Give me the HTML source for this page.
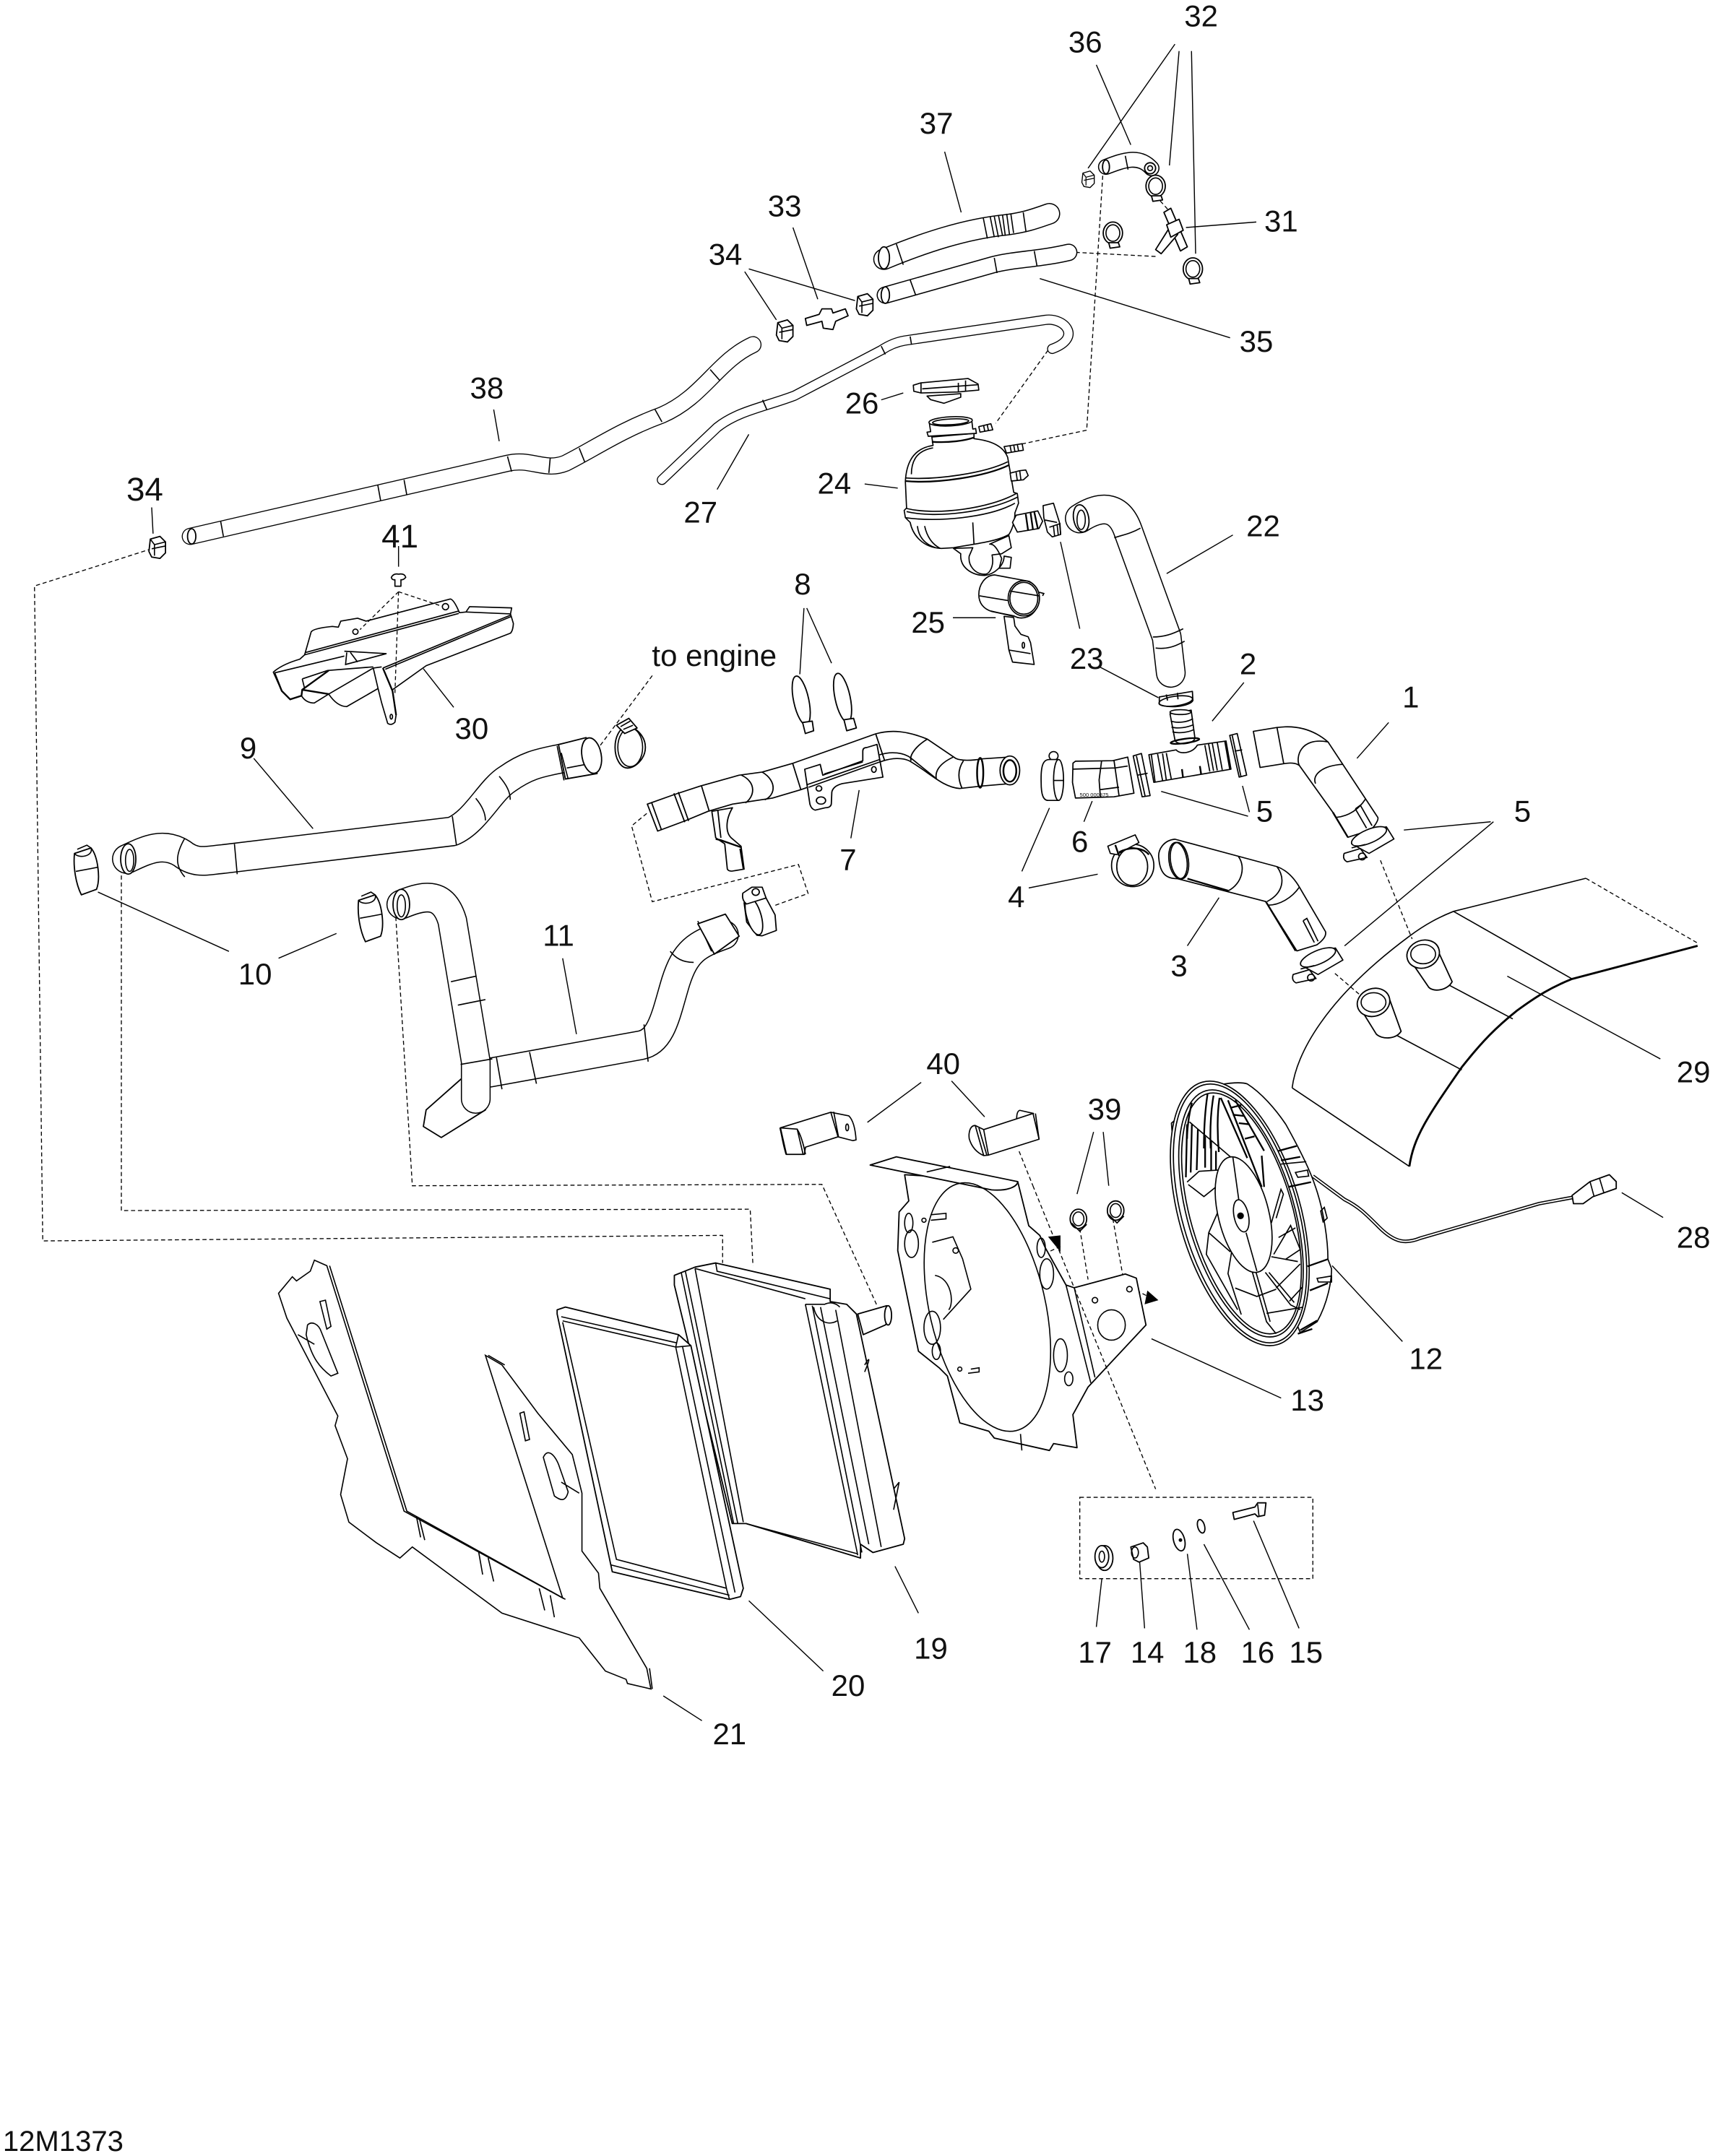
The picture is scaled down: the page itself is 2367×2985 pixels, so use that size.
<!DOCTYPE html>
<html><head><meta charset="utf-8"><style>
html,body{margin:0;padding:0;background:#fff}
svg{display:block}
text{font-family:"Liberation Sans",sans-serif;font-size:22px;fill:#111;text-anchor:middle}
.l{fill:none;stroke:#000;stroke-width:.75}
.p{fill:#fff;stroke:#000;stroke-width:.95;stroke-linejoin:round}
.n{fill:none;stroke:#000;stroke-width:.85}
.d{fill:none;stroke:#000;stroke-width:.7;stroke-dasharray:3 2}
.t{fill:none;stroke-linecap:round;stroke-linejoin:round}
.z .p,.z .n,.p.w,.n.w{stroke-width:5}
.z .b{fill:none;stroke:#000;stroke-width:7}
</style></head><body>
<svg xmlns="http://www.w3.org/2000/svg" width="2367" height="2985" viewBox="0 0 1240 1563.7">
<defs>
<path id="t37" d="M641,188C670,176 700,166 730,163C745,161 752,158 761,155"/>
<path id="t35" d="M642,214L720,192C735,188 754,188 775,183"/>
<path id="t36" d="M802,121C815,116 826,112 835,122"/>
<path id="t38" d="M138,389L368,336C385,332 395,342 410,336C430,326 450,312 480,301C510,288 520,262 546,250"/>
<path id="t27" d="M480,348L520,310C535,298 555,295 576,287L639,254C645,250 650,248 656,247L758,232C772,230 785,245 763,253"/>
<path id="t9" d="M92,623C105,617 118,610 132,619C142,627 150,624 162,623L328,603C345,596 355,573 368,565C385,553 395,553 412,549"/>
<path id="t11a" d="M291,656C310,648 322,648 328,668L345,770L345,797"/>
<path id="t11b" d="M355,778L465,758C480,755 483,735 490,712C497,690 505,685 525,678"/>
<path id="t22" d="M783,376C800,365 812,368 818,385L846,462L849,488"/>
<g id="cl"><ellipse class="p" cx="-4" cy="0" rx="9" ry="15"/><path class="p" d="M-4,-15C2,-15 9,-8 9,0C9,8 2,15 -4,15"/><ellipse class="n" cx="-2" cy="0" rx="9" ry="14"/><path class="p" d="M-12,-16L-3,-21L3,-14L-6,-10Z"/><path class="n" d="M-9,-15L-2,-19M-7,-13L0,-16"/></g>
<g id="bd"><path class="p" d="M-8,-12L4,-16C9,-10 11,6 8,14L-3,18C-7,10 -9,-2 -8,-12Z"/><path class="n" d="M-8,-12C-5,-8 6,-10 4,-16M-7,1L9,-2M-6,-15L1,-18L4,-16"/></g>
<g id="hx"><path class="p" d="M-5,-6L2,-8L6,-4L6,4L2,8L-4,7L-6,3Z"/><path class="n" d="M-5,-6L-2,-2L-2,6M-2,-2L6,-4M-4,1L6,-1"/></g>
<g id="cr"><ellipse class="p" cx="0" cy="0" rx="7" ry="8"/><ellipse class="n" cx="0" cy="0" rx="5" ry="6"/><path class="p" d="M-3,7L4,7L5,10L-2,11Z"/></g>
<g id="c5"><path class="p w" d="M1310,655L1380,695L1480,635L1450,585L1380,595Z"/><ellipse class="p w" cx="1380" cy="624" rx="76" ry="28" transform="rotate(-24 1380 624)"/><path class="p w" d="M1280,695L1345,675L1372,712L1292,730Q1272,720 1280,695Z"/><circle class="n w" cx="1352" cy="708" r="14"/><path class="n w" d="M1310,672L1365,658"/></g>
</defs>

<!-- dashed connectors -->
<path class="d" d="M110,398L25,425L31,900L524,896L524,916"/>
<path class="d" d="M88,630L88,878L544,877L546,918"/>
<path class="d" d="M287,665L299,860L596,859L636,947"/>
<path class="d" d="M780,183L838,186M741,322L788,312L800,122M760,254L722,307M838,142L847,152"/>
<path class="d" d="M473,490L435,541M469,590L458,599L473,654L579,627L586,648L561,657"/>
<path class="d" d="M1150,637L1231,684M1001,624L1024,681M968,706L989,724"/>
<path class="d" d="M739,835L749,860M783,891L789,928M807,884L814,924"/>
<path class="d" d="M769,904L730,922M798,943L812,947M824,936L834,941"/>
<rect class="d" x="783" y="1086" width="169" height="59"/>
<path d="M724,925L733,915L736,924ZM812,942L819,949L809,952ZM832,936L840,943L830,946ZM769,908L760,897L769,896Z" fill="#000"/>

<!-- leaders -->
<path class="l" d="M852,32L789,122M855,37L848,120M864,37L867,184M795,47L820,105M685,110L697,154M575,165L593,217M540,197L563,232M543,195L620,218M911,161L860,165M754,202L892,245M358,297L362,320M639,290L655,285M627,351L651,354M520,355L543,315M894,388L846,416M769,393L783,456M798,484L840,506M691,448L722,448M583,441L580,489M585,441L603,481M902,495L879,523M1007,524L984,550M329,513L307,485M227,601L184,550M905,592L842,574M906,589L901,570M1081,596L1018,602M1083,596L975,686M786,596L792,581M617,608L623,573M741,632L761,586M746,644L796,634M861,686L884,651M166,690L71,647M202,695L244,677M408,695L418,750M668,785L629,814M690,784L714,810M793,821L781,866M800,821L804,860M1093,708L1204,768M1176,865L1206,883M966,918L1017,973M835,971L929,1014M649,1136L666,1170M543,1161L597,1212M481,1230L509,1248M799,1145L795,1180M826,1127L830,1181M861,1127L868,1182M873,1120L906,1182M909,1103L942,1181M110,368L111,387M289,396L289,411"/>

<!-- hoses top -->
<use href="#t37" class="t" stroke="#000" stroke-width="15.6"/><use href="#t37" class="t" stroke="#fff" stroke-width="14"/>
<ellipse class="p" cx="641" cy="187" rx="4" ry="8"/>
<path class="n" d="M650,177L655,192M713,158L716,173M718,157L721,172M721,157L724,172M724,156L727,171M727,156L729,171M730,155L732,170M733,155L735,169M742,154L744,168"/>
<use href="#t35" class="t" stroke="#000" stroke-width="12.6"/><use href="#t35" class="t" stroke="#fff" stroke-width="11"/>
<ellipse class="p" cx="642" cy="214" rx="3" ry="6"/><path class="n" d="M660,203L664,214M721,187L723,198M750,182L752,193"/>
<use href="#t36" class="t" stroke="#000" stroke-width="11.6"/><use href="#t36" class="t" stroke="#fff" stroke-width="10"/>
<ellipse class="p" cx="802" cy="121" rx="2.5" ry="5"/><circle class="p" cx="834" cy="122" r="4"/><circle class="n" cx="834" cy="122" r="1.8"/><path class="n" d="M816,113L818,123"/>
<use href="#cr" transform="translate(838,135)"/><use href="#cr" transform="translate(807,169)"/><use href="#cr" transform="translate(865,195)"/>
<g transform="translate(789,130) scale(.75)"><use href="#hx"/></g>
<!-- T 31 -->
<path class="p" d="M844,154L849,151L861,179L856,182Z"/><path class="p" d="M850,162L854,170L842,184L838,181Z"/><path class="p" d="M846,163L855,159L858,167L849,172Z"/>
<!-- 38 -->
<use href="#t38" class="t" stroke="#000" stroke-width="12.4"/><use href="#t38" class="t" stroke="#fff" stroke-width="11"/>
<ellipse class="p" cx="139" cy="389" rx="3" ry="5.5"/><path class="n" d="M160,378L162,389M274,352L276,363M293,348L295,359M368,331L371,342M399,332L398,343M420,325L424,335M475,297L480,306M515,268L522,276"/>
<use href="#t27" class="t" stroke="#000" stroke-width="7.4"/><use href="#t27" class="t" stroke="#fff" stroke-width="6"/>
<path class="n" d="M639,251L642,257M660,244L661,250M553,290L556,297"/>
<!-- 33 / 34 -->
<use href="#hx" transform="translate(569,240)"/><use href="#hx" transform="translate(627,221)"/><use href="#hx" transform="translate(114,397)"/>
<path class="p" d="M584,231L594,228L596,224L603,224L604,227L613,224L615,229L606,233L604,239L597,238L596,233L585,236Z"/>

<!-- tank crop: cap, 24, 25, 23 upper -->
<g class="z" transform="translate(644.3,272.4) scale(.1746)">
<path class="p" d="M160,85L300,75L300,90L230,115L175,100Z"/>
<path class="p" d="M103,40L135,30L330,12L372,35L375,60L320,65L290,68L135,72L105,65Z"/><path class="n" d="M135,30L135,72M290,30L290,68M320,20L320,65M140,55L370,38"/>
<path class="p" d="M185,290C120,300 75,340 70,440L75,550L65,560L70,590L90,610C100,660 140,715 220,718L270,715C350,700 450,690 500,660C520,630 525,590 525,570L540,530L535,490L520,485L495,340C480,300 440,275 375,265L355,262L355,240L180,255Z"/>
<path class="b" d="M70,438C200,450 400,420 500,372"/><path class="n" d="M70,425C200,435 400,405 495,358M75,552C200,582 420,552 530,490M75,565C200,595 420,565 535,505M70,590C200,610 420,590 525,530M95,410C95,340 130,310 185,300M120,625C125,670 150,700 195,715M150,625C160,670 180,700 215,718M350,610L355,700"/>
<path class="b" d="M180,275C250,280 320,270 355,257"/>
<path class="p" d="M170,200L345,180L350,222L362,220L365,240L165,252L160,235L175,233Z"/><ellipse class="p" cx="258" cy="190" rx="90" ry="19" transform="rotate(-3 258 190)"/><ellipse class="n" cx="258" cy="192" rx="75" ry="12" transform="rotate(-3 258 192)"/>
<path class="p" d="M375,212L425,200L433,225L380,235Z"/><path class="n" d="M395,208L400,232M410,204L415,228"/>
<path class="p" d="M480,295L555,283L560,310L490,322Z"/><path class="n" d="M505,292L510,318M520,288L525,316M535,286L540,312"/>
<path class="p" d="M505,405L545,395L570,392L580,415L560,433L510,438Z"/><path class="n" d="M530,402L535,436M545,396L550,434"/>
<path class="p" d="M530,580L620,562L640,605L625,635L535,650L515,610Z"/><path class="b" d="M570,575L580,645M590,570L600,640M605,565L620,635"/>
<path class="p" d="M270,718L300,740C295,800 350,830 400,830C440,825 480,790 480,750L510,755L505,800L460,800L470,760C445,700 430,700 420,700L500,665L510,715L470,740L430,745C440,790 420,825 400,825C360,825 330,790 335,750L350,715Z" style="fill:none"/>
<path class="p" d="M440,828L585,855A65,73 0 0 1 520,998L430,980C395,970 375,945 375,910C375,870 400,830 440,828Z"/><ellipse class="p" cx="562" cy="925" rx="65" ry="73"/><ellipse class="n" cx="562" cy="925" rx="58" ry="66"/>
<path class="n" d="M378,915L500,935M505,895L625,915M625,900L645,905L640,915"/>
<path class="p" d="M480,1000L500,1140L515,1190L605,1200L590,1110L580,1085L550,1075L525,1040L520,1005Z"/><path class="n" d="M500,1140L590,1155M425,978L520,1000"/><ellipse class="n" cx="560" cy="1120" rx="5" ry="12"/>
<path class="p" d="M642,540L685,530L710,610L715,660L680,670L660,650L645,590Z"/><path class="n" d="M650,600L700,610M668,630L712,615L715,660M685,625L690,668M700,618L705,662"/>
</g>
<!-- 22 -->
<use href="#t22" class="t" stroke="#000" stroke-width="21.6"/><use href="#t22" class="t" stroke="#fff" stroke-width="20"/>
<ellipse class="p" cx="784" cy="376" rx="5.5" ry="10" transform="rotate(-10 784 376)"/><ellipse class="n" cx="784" cy="377" rx="3" ry="7"/>
<path class="n" d="M808,390C814,388 820,387 827,383M836,462C844,462 850,460 858,456M838,470C846,471 852,469 859,465"/>

<!-- centre crop: 1-6 -->
<g class="z" transform="translate(743.8,497.6) scale(.1804,.1746)">
<path class="p" d="M537,45L670,22L672,60C660,85 570,95 537,75Z"/><ellipse class="n" cx="603" cy="62" rx="68" ry="20" transform="rotate(-8 603 62)"/><path class="n" d="M565,35L570,60M610,28L612,55"/>
<path class="p" d="M580,115L600,225C610,250 680,240 680,215L665,100Z"/><ellipse class="p" cx="622" cy="108" rx="42" ry="10"/><path class="n" d="M583,145C610,155 650,150 672,135M586,170C610,178 650,172 675,160M590,190C615,198 655,192 677,180"/>
<path class="p" d="M495,285L605,265C620,285 670,280 690,245L805,228L825,345L600,385L515,400Z"/>
<path class="n" d="M505,285L520,398M530,282L550,392M550,280L565,390M565,278L585,385M720,245L740,355M735,240L755,352M750,238L770,350M770,235L790,348M800,228L820,345"/>
<path class="b" d="M628,345L632,378M700,332L705,365"/><ellipse class="b" cx="640" cy="228" rx="58" ry="9" transform="rotate(-8 640 228)"/>
<path class="p" d="M432,290L465,280L500,455L468,460Z"/><path class="n" d="M445,290L480,458M450,370L490,362"/>
<path class="p" d="M820,205L850,197L888,370L858,378Z"/><path class="n" d="M830,205L865,375M840,270L870,265"/>
<path class="p" d="M190,320L200,312L350,310L410,295L435,445L355,460L200,465L188,400Z"/><path class="n" d="M190,345L360,340L410,332M305,310L295,390L300,460M355,310L375,455M300,430L375,420"/>
<text x="275" y="460" style="font-size:22px">500 000875</text>
<circle class="n" cx="112" cy="290" r="18"/><path class="p" d="M95,305C70,305 60,330 62,400C62,450 70,475 90,475L130,475A20,85 0 0 0 130,305Z"/><ellipse class="p" cx="132" cy="390" rx="20" ry="85"/><path class="n" d="M112,392L150,392"/>
<path class="p" d="M915,188L1010,172C1060,165 1140,165 1215,232L1415,545C1420,555 1400,590 1380,600L1295,628L1235,525L1100,330C1085,318 1060,318 1040,322L942,338Z"/>
<path class="n" d="M1010,172L1037,322M1215,232C1100,210 1085,300 1100,330M1275,325C1190,330 1150,370 1165,405M1250,545C1300,540 1340,510 1365,470M1325,510L1345,495L1392,580M1325,510L1370,590"/><path class="b" d="M1235,525L1295,628"/>
<use href="#c5"/>
<path class="p" d="M535,715C530,680 555,640 600,636L650,650L1010,750C1050,765 1080,800 1100,835L1205,1020C1210,1040 1190,1060 1170,1075L1090,1100L965,895L610,800C570,800 540,785 535,715Z"/>
<ellipse class="n" cx="612" cy="725" rx="36" ry="76" transform="rotate(-8 612 725)"/><ellipse class="n" cx="618" cy="725" rx="36" ry="76" transform="rotate(-8 618 725)"/><path class="n" d="M855,708C885,750 870,820 815,850M1010,750C1045,800 1035,860 970,895M975,910C1020,910 1070,880 1100,835M1115,975L1130,965L1175,1060M1115,975L1160,1065"/><path class="b" d="M965,895L1085,1100M650,800L815,850"/>
<g transform="translate(-205,503)"><use href="#c5"/></g>
<ellipse class="p" cx="430" cy="745" rx="85" ry="88"/><ellipse class="n" cx="428" cy="750" rx="62" ry="78"/><path class="p" d="M330,665L440,618L455,650L365,700L340,695Z"/><path class="b" d="M360,660L375,705M375,690C420,665 470,670 495,700"/>
</g>

<!-- 29 -->
<path class="n" d="M937,789C940,765 960,725 1022,679C1034,670 1044,665 1054,661L1150,637"/>
<path class="n" d="M937,789L1022,846"/>
<path d="M1022,846C1025,825 1035,810 1060,774C1075,755 1085,745 1100,733C1115,722 1125,716 1140,710L1231,686" fill="none" stroke="#000" stroke-width="1.5"/>
<path class="n" d="M1054,661L1140,710M1048,713L1097,739M1013,751L1060,776"/>
<path class="p" d="M1021,694L1042,688L1053,712C1050,718 1040,720 1036,716Z"/><ellipse class="p" cx="1032" cy="692" rx="12" ry="10" transform="rotate(-20 1032 692)"/><ellipse class="n" cx="1032" cy="692" rx="9" ry="7"/>
<path class="p" d="M985,729L1007,723L1016,748C1012,754 1002,754 998,750Z"/><ellipse class="p" cx="996" cy="727" rx="12" ry="10" transform="rotate(-20 996 727)"/><ellipse class="n" cx="996" cy="727" rx="9" ry="7"/>

<!-- 8 -->
<ellipse class="p" cx="581" cy="508" rx="5.5" ry="18" transform="rotate(-12 581 508)"/><path class="p" d="M582,524L589,523L590,530L584,532Z"/>
<ellipse class="p" cx="611" cy="506" rx="5.5" ry="18" transform="rotate(-12 611 506)"/><path class="p" d="M612,522L619,521L621,528L614,530Z"/>
<!-- 7 crop -->
<g class="z" transform="translate(461,518.6) scale(.1871,.1746)">
<path class="p" d="M295,400L310,510L345,535L355,640Q360,650 375,648L420,640L408,545L370,510C350,490 345,440 375,385Z"/><path class="n" d="M318,395L330,510"/><path class="b" d="M310,515L330,520L410,550M405,555L418,640"/>
<path class="p" d="M45,370L150,330L250,295L400,250L490,237L610,200L930,78C990,60 1050,65 1130,100L1240,180C1260,190 1300,190 1340,182L1440,175L1450,285L1340,295L1255,305C1190,300 1140,240 1060,190C1030,175 990,180 960,190L640,310L530,345L375,370L280,400L190,440L85,482Z"/>
<path class="n" d="M255,295L285,400M410,250C470,280 460,340 425,365M490,237C550,275 540,335 500,352M608,200L640,310M930,78L965,190M1130,100C1070,140 1060,180 1068,190M1230,175C1170,205 1160,240 1165,265M1270,190C1245,230 1250,270 1265,305M945,165C990,150 1040,155 1068,180L1160,260M62,365L100,478M148,325L190,445M165,320L205,440"/>
<path class="p" d="M655,225L715,205L725,250L880,190L880,150Q880,135 895,135L935,122L958,258L800,285Q765,295 760,320L758,370Q755,385 735,385L695,395Q680,390 675,370Z"/>
<path class="n" d="M662,290L945,185M670,300L945,195M730,245L880,195"/><ellipse class="n" cx="710" cy="305" rx="11" ry="11"/><ellipse class="n" cx="718" cy="355" rx="18" ry="15"/><ellipse class="n" cx="923" cy="226" rx="9" ry="12"/>
<ellipse class="b" cx="1335" cy="240" rx="12" ry="62"/>
<ellipse class="p" cx="1450" cy="230" rx="38" ry="60"/><ellipse class="b" cx="1450" cy="232" rx="25" ry="45"/>
</g>
<!-- 9 -->
<use href="#t9" class="t" stroke="#000" stroke-width="21.6"/><use href="#t9" class="t" stroke="#fff" stroke-width="20"/>
<ellipse class="p" cx="93" cy="623" rx="5.5" ry="11"/><ellipse class="n" cx="94" cy="624" rx="3" ry="8"/>
<path class="n" d="M134,608C127,620 127,628 134,636M170,612L172,634M328,592L331,613M345,579C350,585 352,590 352,595M362,563C368,570 370,575 370,580"/>
<path class="p" d="M405,540L425,535L433,561L410,565Z"/><path class="n" d="M407,546L412,565M404,541L409,566M411,557L432,553"/><ellipse class="p" cx="429" cy="548" rx="7" ry="13" transform="rotate(-10 429 548)"/>
<use href="#cl" transform="translate(459,542)"/>
<use href="#bd" transform="translate(62,631)"/><use href="#bd" transform="translate(268,665)"/>
<!-- 11 -->
<path class="p" d="M335,782L309,805L307,817L320,825L352,805L357,775Z"/>
<use href="#t11b" class="t" stroke="#000" stroke-width="21.6"/><use href="#t11b" class="t" stroke="#fff" stroke-width="20"/>
<use href="#t11a" class="t" stroke="#000" stroke-width="21.6"/><use href="#t11a" class="t" stroke="#fff" stroke-width="20"/>
<ellipse class="p" cx="291" cy="656" rx="6" ry="11"/><ellipse class="n" cx="291" cy="657" rx="3" ry="8"/>
<path class="n" d="M327,712L345,708M332,729L352,725M334,772L357,768M360,767L364,790M384,763L389,786M467,743L470,770M486,690C490,695 495,698 503,698M506,668L516,690"/>
<path class="p" d="M506,670L526,663L536,679L518,692Z"/>
<g class="z" transform="translate(461,518.6) scale(.1871,.1746)">
<path class="p" d="M420,780L430,860L470,915L490,917L545,895L540,830L510,770L500,750Z"/><ellipse class="p" cx="458" cy="835" rx="28" ry="80" transform="rotate(-15 458 835)"/>
<path class="p" d="M415,740L450,715L490,715L505,760L430,785Q410,770 415,740Z"/><circle class="n" cx="465" cy="735" r="14"/>
</g>

<!-- 30 / 41 crop -->
<g class="z" transform="translate(188.6,398.1) scale(.1746)">
<path class="p" d="M545,118Q555,100 575,105Q600,100 605,118Q595,130 585,128L585,155L560,155L560,128Q548,130 545,118Z"/>
<path class="p" d="M55,512Q90,480 165,458L185,440L212,345Q220,330 300,322L325,325L335,300L405,288L440,300L790,208Q805,210 828,265L855,262L870,240L1045,245L1040,270L1052,310Q1050,340 1040,350L690,485L550,585L565,690L560,720Q545,735 530,725L505,640L490,580L360,655Q320,655 285,603L225,640Q190,640 172,610L125,625L90,590Z"/>
<path class="n" d="M185,440L825,268M190,430L825,258M60,515L350,445M350,425L525,435L355,480L360,430M375,430L405,470M175,540L280,505L470,490M175,540L185,580M520,500L1045,280M510,495L1040,275M470,495L490,580M285,603L470,495M470,495L505,490M855,262L1040,270"/>
<path class="b" d="M60,515L90,590L125,625L172,610M172,610L175,585L285,505M175,585L285,603M510,495L550,590L565,690"/>
<circle class="n" cx="396" cy="344" r="11"/><circle class="n" cx="770" cy="240" r="13"/><ellipse class="n" cx="545" cy="697" rx="5" ry="10"/>
<path d="M575,178L415,335M575,178L755,238M575,178L560,600" fill="none" stroke="#000" stroke-width="4" stroke-dasharray="16 11"/>
</g>

<!-- 40 crop -->
<g class="z" transform="translate(555.3,780.5) scale(.1746)">
<path class="p" d="M60,215L270,150L345,165Q370,190 375,265L362,268L300,252L165,295L160,325L85,325Q75,300 60,215Z"/><path class="n" d="M60,215L130,220Q150,250 165,325M130,218L155,325M270,150L300,252M282,148L302,252"/><ellipse class="n" cx="338" cy="213" rx="6" ry="14"/><path class="b" d="M60,215L85,325"/>
<path class="p" d="M1042,178Q1042,145 1055,142L1112,155L1070,175Z"/>
<path class="p" d="M905,222L1110,155L1135,262L925,328L905,330Q860,310 845,260Q843,245 845,235Q850,205 870,205Z"/><path class="n" d="M870,205L905,330M885,215L918,328M905,222L925,328M1120,155L1135,262"/>
</g>
<g transform="translate(782,884)"><ellipse class="p" cx="0" cy="0" rx="6" ry="7"/><ellipse class="n" cx="0" cy="0" rx="4" ry="5"/><path class="n" d="M-5,3L1,9L6,4"/></g>
<g transform="translate(809,878)"><ellipse class="p" cx="0" cy="0" rx="6" ry="7"/><ellipse class="n" cx="0" cy="0" rx="4" ry="5"/><path class="n" d="M-5,3L1,9L6,4"/></g>

<!-- 13 -->
<path class="p" d="M656,852L659,871L652,879L651,907L666,980L681,992L687,998L696,1032L717,1038L721,1043L761,1052L764,1047L781,1050L778,1026L789,1006L831,961L824,927L816,924L779,934L773,932L758,905L754,896L746,889L738,857Z"/>
<path class="p" d="M631,845L650,839L738,857C738,860 732,864 719,863Z"/>
<path class="n" d="M672,850L689,846"/>
<ellipse class="n" cx="716" cy="948" rx="42" ry="92" transform="rotate(-13 716 948)"/>
<path class="n" d="M779,934L794,999M773,932L791,1003M740,1040L741,1052"/>
<ellipse class="n" cx="806" cy="961" rx="10" ry="11"/><circle class="n" cx="794" cy="943" r="2"/><circle class="n" cx="819" cy="935" r="2"/>
<path class="n" d="M676,901L691,897L698,913L704,935L684,957"/><circle class="n" cx="693" cy="907" r="2"/><path class="n" d="M678,925C690,927 692,945 688,950"/>
<ellipse class="n" cx="659" cy="887" rx="3" ry="7"/><ellipse class="n" cx="661" cy="902" rx="5" ry="10"/><ellipse class="n" cx="676" cy="963" rx="6" ry="12"/><ellipse class="n" cx="679" cy="980" rx="3" ry="6"/><ellipse class="n" cx="755" cy="905" rx="3" ry="7"/><ellipse class="n" cx="759" cy="924" rx="5" ry="11"/><ellipse class="n" cx="769" cy="983" rx="5" ry="12"/><ellipse class="n" cx="775" cy="1000" rx="3" ry="5"/>
<path class="n" d="M675,881L686,880L686,884L675,885M704,993L710,992L710,995L702,996"/><circle class="n" cx="670" cy="885" r="1.5"/><circle class="n" cx="696" cy="993" r="1.5"/>
<path class="d" d="M749,860L838,1080"/>

<!-- 12 fan crop -->
<path d="M952,853L975,870C985,875 990,880 1000,890C1012,902 1020,902 1030,898L1116,873L1143,868" fill="none" stroke="#000" stroke-width="2.6"/>
<path d="M952,853L975,870C985,875 990,880 1000,890C1012,902 1020,902 1030,898L1116,873L1143,868" fill="none" stroke="#fff" stroke-width="1"/>
<path class="p" d="M1140,867L1153,857L1167,852L1172,857L1172,862L1155,868L1148,873L1141,873Z"/><path class="n" d="M1153,857L1156,868M1160,855L1163,865"/>
<g class="z" transform="translate(838.1,775.3) scale(.1746)">
<path class="p" d="M255,70C300,55 360,55 380,62C440,100 500,170 540,230C590,320 640,420 660,480C700,590 715,720 715,790L730,830C730,880 715,970 670,1050L600,1095L400,600Z"/>
<path class="p" d="M95,200L65,225L70,290L85,330L150,300Z"/>
<ellipse class="p" cx="349" cy="600" rx="252" ry="567" transform="rotate(-16 349 600)"/>
<ellipse class="n" cx="350" cy="600" rx="240" ry="555" transform="rotate(-16 350 600)"/>
<ellipse class="n" cx="354" cy="600" rx="222" ry="530" transform="rotate(-16 354 600)"/>
<ellipse class="n" cx="356" cy="600" rx="212" ry="517" transform="rotate(-16 356 600)"/>
<path class="b" d="M150,140C135,200 130,260 130,290M215,105C205,170 200,250 200,330M240,110C228,180 225,260 228,330M265,120C255,180 255,270 262,345M130,230L125,450M150,230L145,430M175,250L170,420M205,280L205,410M230,300L230,420M250,340L250,420M270,120L380,370M300,130L440,490M330,130L450,340M440,360L450,490M315,160L355,150M320,190L365,195M345,225L390,230M370,290L410,280"/>
<path class="n" d="M140,220L310,365M130,470L180,425L260,420M135,480L200,530L250,490M260,590L220,680L210,770L340,1000M220,680L310,760M320,730L300,850L355,1020M400,840L460,1050L500,1100M415,840L475,1050M455,845L560,980L600,1000M470,845L575,970M490,770L560,650L600,750L540,790M480,640L520,500L530,520L500,620M500,910L600,810M330,910L420,945L500,915M460,1015L610,990M555,965L610,905M510,700L580,660M480,780L590,800"/>
<ellipse class="p" cx="365" cy="605" rx="105" ry="246" transform="rotate(-14 365 605)"/>
<ellipse class="n" cx="355" cy="610" rx="30" ry="68" transform="rotate(-12 355 610)"/><circle cx="352" cy="610" r="14" fill="#000"/>
<path class="n" d="M320,365L345,545M375,680L420,840"/>
<path class="b" d="M510,340L585,320M520,380L600,365M550,490L645,470M630,820L715,790M640,920L715,890M600,1085L670,1045M590,1100L650,1080"/>
<path class="n" d="M520,395L625,385M580,430L630,420L635,445L590,450ZM670,870L730,860L730,885L675,885ZM685,590L700,575L712,620L695,635Z"/>
</g>

<!-- 19 radiator -->
<path class="p" d="M489,925L504,919L519,916L602,935L602,944L614,946L621,953L656,1116L655,1120L633,1126L624,1120L624,1130L541,1105L531,1105L489,932Z"/>
<path class="n" d="M494,923L532,1105M497,922L535,1105M504,920L539,1104M519,916L520,922L602,942M504,920L584,942M584,946L622,1128M589,947L625,1126M595,948L630,1120M606,950L639,1122M541,1105L622,1127"/>
<path class="p" d="M622,953L643,947L646,955L642,961L626,968Z"/><ellipse class="p" cx="644" cy="954" rx="2.5" ry="7"/>
<path class="n" d="M590,948C592,958 600,962 607,958M584,946L598,946C602,944 606,945 609,948M627,990C630,985 632,983 627,995M648,1080L652,1075L648,1095"/>
<!-- 20 -->
<path class="p" d="M404,950L410,948L492,968L501,976L539,1152L537,1158L529,1160L444,1140L404,953Z"/>
<path class="n" d="M408,958L490,977L527,1153M408,959L447,1131L527,1152M407,955L491,974M443,1135L529,1157M490,977L501,976M492,968L490,977M527,1153L529,1160M495,977L533,1155"/>
<!-- 21 -->
<path class="n" d="M202,938L208,956L245,1027L243,1034L252,1058L247,1084L253,1104L273,1119L290,1130L299,1122L364,1170L420,1188L439,1212L454,1218L455,1221L472,1225L469,1210L435,1152L434,1141L422,1125L422,1083L415,1055L390,1025L364,990L352,983L408,1159L293,1096L237,918L228,914L225,922L215,929L212,926Z"/>
<path class="n" d="M239,918L295,1096L410,1160M354,983L366,990M471,1210L473,1225M302,1100L305,1115M304,1101L308,1117M347,1125L350,1142M354,1130L358,1147M391,1152L395,1168M399,1157L402,1173"/>
<path class="n" d="M232,944L236,943L240,962L237,964ZM223,961C226,958 231,960 233,966L245,996L240,998C232,992 226,985 222,968ZM216,968L228,975M377,1025L380,1024L384,1044L381,1045ZM394,1057C397,1050 402,1055 405,1062L412,1082C410,1090 406,1088 402,1085ZM407,1075L420,1083"/>

<!-- hardware -->
<g transform="translate(799,1130)"><ellipse class="p" cx="2" cy="0" rx="6" ry="9"/><ellipse class="p" cx="0" cy="-1" rx="5" ry="8"/><ellipse class="n" cx="0" cy="-1" rx="2" ry="4"/></g>
<path class="p" d="M820,1122L829,1119L832,1122L833,1130L826,1133L822,1131Z"/><ellipse class="n" cx="823" cy="1126" rx="2.5" ry="4"/>
<ellipse class="p" cx="855" cy="1117" rx="4" ry="8" transform="rotate(-15 855 1117)"/><circle cx="856" cy="1117" r="1.3" fill="#000"/>
<ellipse class="p" cx="871" cy="1107" rx="2.5" ry="5" transform="rotate(-15 871 1107)"/>
<path class="p" d="M894,1097L910,1093L912,1090L918,1090L917,1099L912,1100L910,1098L895,1102Z"/>
<path class="n" d="M912,1091L913,1100"/>

<!-- labels -->
<text x="871" y="19">32</text><text x="787" y="38">36</text><text x="679" y="97">37</text><text x="569" y="157">33</text><text x="526" y="192">34</text><text x="929" y="168">31</text><text x="911" y="255">35</text><text x="353" y="289">38</text><text x="625" y="300">26</text><text x="605" y="358">24</text><text x="508" y="379">27</text>
<text x="105" y="363" style="font-size:24px">34</text><text x="290" y="397" style="font-size:24px">41</text>
<text x="916" y="389">22</text><text x="582" y="431">8</text><text x="673" y="459">25</text><text x="788" y="485">23</text><text x="518" y="483">to engine</text><text x="905" y="489">2</text><text x="342" y="536">30</text><text x="1023" y="513">1</text><text x="180" y="550">9</text><text x="917" y="596">5</text><text x="1104" y="596">5</text><text x="783" y="618">6</text><text x="615" y="631">7</text><text x="737" y="658">4</text><text x="405" y="686">11</text><text x="855" y="708">3</text><text x="185" y="714">10</text><text x="684" y="779">40</text><text x="1228" y="785">29</text><text x="801" y="812">39</text><text x="1228" y="905">28</text><text x="1034" y="993">12</text><text x="948" y="1023">13</text><text x="794" y="1206">17</text><text x="832" y="1206">14</text><text x="870" y="1206">18</text><text x="912" y="1206">16</text><text x="947" y="1206">15</text><text x="675" y="1203">19</text><text x="615" y="1230">20</text><text x="529" y="1265">21</text>
<text x="2" y="1560" style="text-anchor:start;font-size:21px">12M1373</text>
</svg>
</body></html>
